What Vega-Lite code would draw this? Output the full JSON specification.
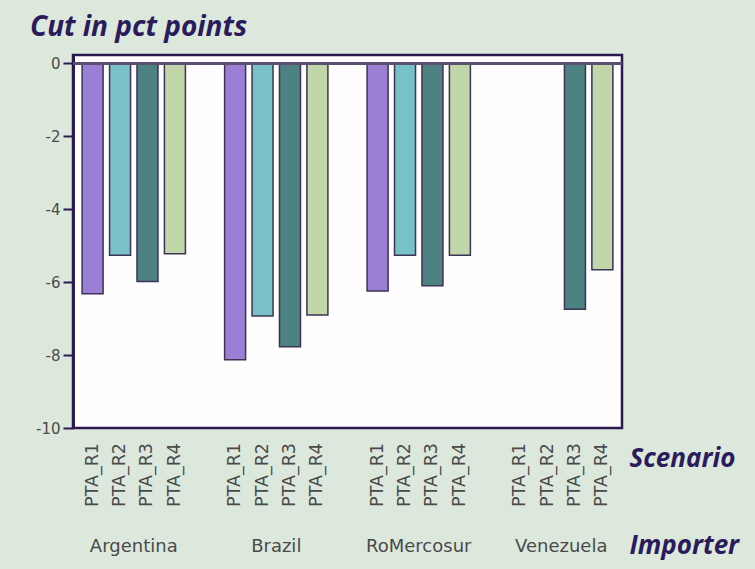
{
  "$schema": "https://vega.github.io/schema/vega-lite/v6.json",
  "width": 549,
  "height": 373,
  "autosize": {"type": "none"},
  "padding": {"left": 73, "top": 55, "right": 133, "bottom": 141},
  "background": "#dde8dd",
  "title": {
    "text": "Cut in pct points",
    "anchor": "start",
    "frame": "group",
    "baseline": "alphabetic",
    "dx": -43,
    "offset": -9,
    "font": "Open Sans",
    "fontSize": 28,
    "fontStyle": "italic",
    "fontWeight": "bold",
    "color": "#2a1b5c"
  },
  "config": {
    "view": {"stroke": "#2b1a4f", "strokeWidth": 2.5, "fill": "#fffdfe"}
  },
  "data": {
    "values": [
      {"Importer": "Argentina", "Scenario": "PTA_R1", "Cut": -6.32},
      {"Importer": "Argentina", "Scenario": "PTA_R2", "Cut": -5.26},
      {"Importer": "Argentina", "Scenario": "PTA_R3", "Cut": -5.98},
      {"Importer": "Argentina", "Scenario": "PTA_R4", "Cut": -5.22},
      {"Importer": "Brazil", "Scenario": "PTA_R1", "Cut": -8.13},
      {"Importer": "Brazil", "Scenario": "PTA_R2", "Cut": -6.93},
      {"Importer": "Brazil", "Scenario": "PTA_R3", "Cut": -7.77},
      {"Importer": "Brazil", "Scenario": "PTA_R4", "Cut": -6.9},
      {"Importer": "RoMercosur", "Scenario": "PTA_R1", "Cut": -6.24},
      {"Importer": "RoMercosur", "Scenario": "PTA_R2", "Cut": -5.26},
      {"Importer": "RoMercosur", "Scenario": "PTA_R3", "Cut": -6.1},
      {"Importer": "RoMercosur", "Scenario": "PTA_R4", "Cut": -5.26},
      {"Importer": "Venezuela", "Scenario": "PTA_R1", "Cut": null},
      {"Importer": "Venezuela", "Scenario": "PTA_R2", "Cut": null},
      {"Importer": "Venezuela", "Scenario": "PTA_R3", "Cut": -6.74},
      {"Importer": "Venezuela", "Scenario": "PTA_R4", "Cut": -5.66}
    ]
  },
  "layer": [
    {
      "mark": {"type": "bar", "stroke": "#3b3454", "strokeWidth": 1.5},
      "encoding": {
        "x": {
          "field": "Importer",
          "type": "nominal",
          "sort": null,
          "scale": {"paddingInner": 0.275, "paddingOuter": 0.064},
          "axis": {
            "orient": "bottom",
            "title": "Importer",
            "labelAngle": 0,
            "ticks": false,
            "domain": false,
            "grid": false,
            "labelPadding": 109,
            "labelFont": "DejaVu Sans",
            "labelFontSize": 18,
            "labelColor": "#4a4a4a",
            "titleX": 556,
            "titleY": 117,
            "titleAlign": "left",
            "titleBaseline": "middle",
            "titleAngle": 0,
            "titleFont": "Open Sans",
            "titleFontSize": 26,
            "titleFontStyle": "italic",
            "titleFontWeight": "bold",
            "titleColor": "#2a1b5c"
          }
        },
        "xOffset": {
          "field": "Scenario",
          "type": "nominal",
          "sort": null,
          "scale": {"paddingInner": 0.2345, "paddingOuter": 0}
        },
        "y": {
          "field": "Cut",
          "type": "quantitative",
          "scale": {"domain": [-10, 0.23], "nice": false, "zero": false},
          "axis": {
            "title": null,
            "values": [0, -2, -4, -6, -8, -10],
            "labelExpr": "'' + datum.value",
            "grid": false,
            "tickColor": "#2b1a4f",
            "tickWidth": 2,
            "tickSize": 10,
            "domainColor": "#2b1a4f",
            "domainWidth": 3,
            "labelFont": "DejaVu Sans",
            "labelFontSize": 15,
            "labelColor": "#4a4a4a",
            "labelPadding": 3
          }
        },
        "color": {
          "field": "Scenario",
          "type": "nominal",
          "scale": {
            "domain": ["PTA_R1", "PTA_R2", "PTA_R3", "PTA_R4"],
            "range": ["#9a7fd5", "#79c1c9", "#4e8181", "#c1d6a9"]
          },
          "legend": null
        }
      }
    },
    {
      "mark": {
        "type": "text",
        "angle": 270,
        "align": "right",
        "baseline": "middle",
        "dx": -15,
        "font": "DejaVu Sans",
        "fontSize": 17.5,
        "color": "#4a4a4a"
      },
      "encoding": {
        "x": {
          "field": "Importer",
          "type": "nominal",
          "sort": null,
          "axis": {
            "orient": "bottom",
            "title": "Scenario",
            "labels": false,
            "ticks": false,
            "domain": false,
            "grid": false,
            "titleX": 556,
            "titleY": 30,
            "titleAlign": "left",
            "titleBaseline": "middle",
            "titleAngle": 0,
            "titleFont": "Open Sans",
            "titleFontSize": 26,
            "titleFontStyle": "italic",
            "titleFontWeight": "bold",
            "titleColor": "#2a1b5c"
          }
        },
        "xOffset": {"field": "Scenario", "type": "nominal", "sort": null},
        "y": {"datum": -10, "type": "quantitative"},
        "text": {"field": "Scenario"}
      }
    },
    {
      "mark": {"type": "rule", "color": "#5b5070", "strokeWidth": 2},
      "encoding": {"y": {"datum": 0, "type": "quantitative"}}
    }
  ],
  "resolve": {"axis": {"x": "independent"}}
}
